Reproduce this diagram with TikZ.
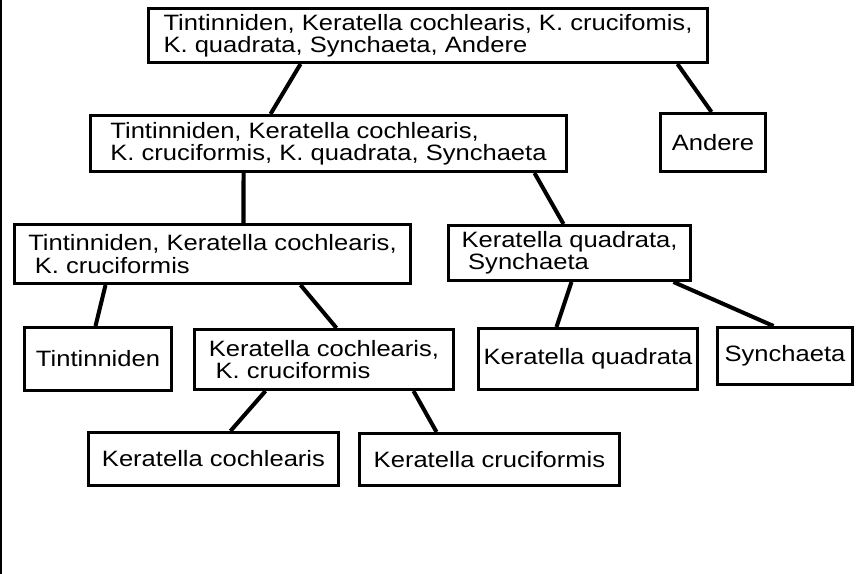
\documentclass[tikz,border=0pt]{standalone}
\usepackage{fontspec}
\setmainfont{Liberation Sans}[FakeStretch=1.15]

\tikzset{
  taxbox/.style={draw, line width=1.7pt, rectangle, inner xsep=0.06cm, inner ysep=0pt,
    align=left, font=\fontsize{12.65pt}{12.6pt}\selectfont},
  branch/.style={line width=2.3pt}
}

\begin{document}
\begin{tikzpicture}[x=0.02cm, y=-0.02cm]
\useasboundingbox (0,0) rectangle (860,574);
\draw[line width=0.6pt] (1,0) -- (1,574);

\node[taxbox, minimum width=11.18cm, minimum height=1.08cm] (all) at (428,35.5)
  {Tintinniden, Keratella cochlearis, K. crucifomis,\\K. quadrata, Synchaeta, Andere};
\node[taxbox, minimum width=2.10cm, minimum height=1.16cm] (andere) at (713,142.5) {Andere};
\node[taxbox, minimum width=9.52cm, minimum height=1.12cm] (sub) at (328.5,143.5)
  {Tintinniden, Keratella cochlearis,\\K. cruciformis, K. quadrata, Synchaeta};
\node[taxbox, minimum width=7.92cm, minimum height=1.18cm] (tkc) at (212.5,254)
  {Tintinniden, Keratella cochlearis,\\\hspace*{0.3em}K. cruciformis};
\node[taxbox, minimum width=4.84cm, minimum height=1.10cm] (ksyn) at (569.5,253)
  {Keratella quadrata,\\\hspace*{0.3em}Synchaeta};
\node[taxbox, minimum width=2.94cm, minimum height=1.26cm] (tint) at (98,359) {Tintinniden};
\node[taxbox, minimum width=5.18cm, minimum height=1.20cm] (kck) at (324,359.5)
  {Keratella cochlearis,\\\hspace*{0.3em}K. cruciformis};
\node[taxbox, minimum width=4.38cm, minimum height=1.22cm] (kquad) at (588,359) {Keratella quadrata};
\node[taxbox, minimum width=2.70cm, minimum height=1.14cm] (synch) at (785,356) {Synchaeta};
\node[taxbox, minimum width=5.00cm, minimum height=1.06cm] (kcoch) at (213.5,459) {Keratella cochlearis};
\node[taxbox, minimum width=5.20cm, minimum height=1.04cm] (kcruc) at (489.5,459.5) {Keratella cruciformis};

\draw[branch] ([xshift=3.07cm]all.south west) -- ([xshift=3.63cm]sub.north west);
\draw[branch] ([xshift=10.61cm]all.south west) -- ([xshift=1.05cm]andere.north west);
\draw[branch] ([xshift=3.09cm]sub.south west) -- ([xshift=4.61cm]tkc.north west);
\draw[branch] ([xshift=8.91cm]sub.south west) -- ([xshift=2.33cm]ksyn.north west);
\draw[branch] ([xshift=1.85cm]tkc.south west) -- ([xshift=1.45cm]tint.north west);
\draw[branch] ([xshift=5.75cm]tkc.south west) -- ([xshift=2.87cm]kck.north west);
\draw[branch] ([xshift=2.49cm]ksyn.south west) -- ([xshift=1.59cm]kquad.north west);
\draw[branch] ([xshift=4.53cm]ksyn.south west) -- ([xshift=1.15cm]synch.north west);
\draw[branch] ([xshift=1.45cm]kck.south west) -- ([xshift=2.87cm]kcoch.north west);
\draw[branch] ([xshift=4.41cm]kck.south west) -- ([xshift=1.57cm]kcruc.north west);

\end{tikzpicture}
\end{document}
